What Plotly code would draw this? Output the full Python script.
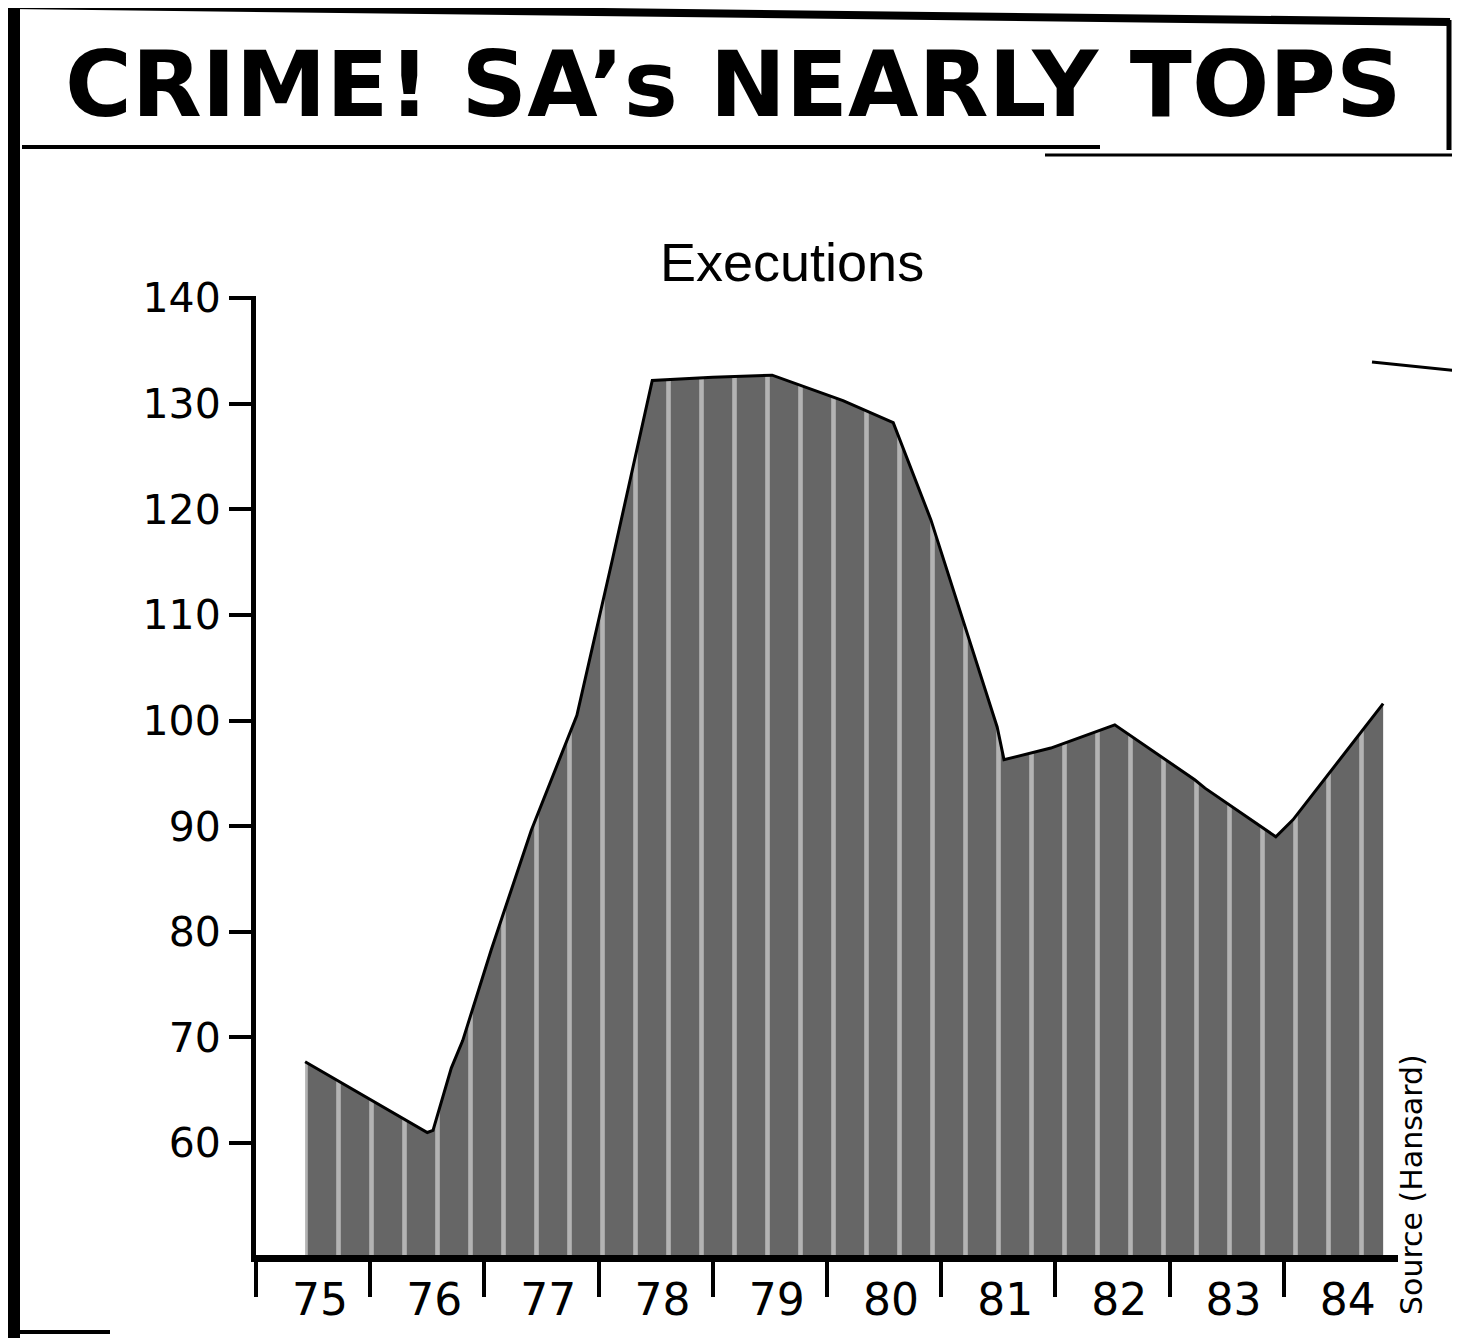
import plotly.graph_objects as go

# ---- data ----
period_x = [1975.43, 1976.50, 1976.55, 1976.71, 1976.81, 1977.06, 1977.41, 1977.81,
            1978.12, 1978.47, 1979.00, 1979.52, 1980.14, 1980.58, 1980.91, 1981.22,
            1981.49, 1981.55, 1981.96, 1982.52, 1982.72, 1983.22, 1983.31, 1983.93,
            1984.08, 1984.87]
executions = [67.7, 61.0, 61.2, 67.1, 69.7, 78.3, 89.6, 100.5,
              115.2, 132.2, 132.5, 132.7, 130.3, 128.2, 119.0, 108.6,
              99.4, 96.3, 97.4, 99.6, 98.1, 94.4, 93.6, 89.0,
              90.6, 101.6]
year_label_pos = [1975.56, 1976.56, 1977.56, 1978.56, 1979.56,
                  1980.56, 1981.56, 1982.56, 1983.56, 1984.56]
year_labels = ["75", "76", "77", "78", "79", "80", "81", "82", "83", "84"]
year_bounds = [1975, 1976, 1977, 1978, 1979, 1980, 1981, 1982, 1983, 1984]
y_ticks = [60, 70, 80, 90, 100, 110, 120, 130, 140]

title_text = "CRIME! SA’s NEARLY TOPS"
subtitle_text = "Executions"
source_text = "Source (Hansard)"

# ---- layout geometry (target pixels in the page) ----
W_FIG, H_FIG = 1460, 1338
OFF = 8  # page body margin
L, R, T, B = 256 - OFF, 1398 - OFF, 296 - OFF, 1255 - OFF
PW, PH = R - L, B - T


def px_x(x):
    return (x - OFF - L) / PW


def px_y(y):
    return (B - (y - OFF)) / PH


fig = go.Figure()
fig.add_trace(go.Scatter(
    x=period_x, y=executions, mode="lines",
    line=dict(color="black", width=3),
    fill="tozeroy", fillcolor="#666666",
    fillpattern=dict(shape="|", fgcolor="white", size=33, solidity=0.14,
                     fillmode="overlay"),
    hoverinfo="skip", showlegend=False,
))

shapes = [
    dict(type="rect", xref="paper", yref="paper",
         x0=px_x(3), x1=px_x(20), y0=px_y(1346), y1=px_y(0),
         fillcolor="black", line=dict(width=0)),
    dict(type="line", xref="paper", yref="paper",
         x0=px_x(10), y0=px_y(5), x1=px_x(1450), y1=px_y(22),
         line=dict(color="black", width=8)),
    dict(type="line", xref="paper", yref="paper",
         x0=px_x(1449), y0=px_y(20), x1=px_x(1449), y1=px_y(150),
         line=dict(color="black", width=5)),
    dict(type="line", xref="paper", yref="paper",
         x0=px_x(22), y0=px_y(147), x1=px_x(1100), y1=px_y(147),
         line=dict(color="black", width=4)),
    dict(type="line", xref="paper", yref="paper",
         x0=px_x(1045), y0=px_y(155), x1=px_x(1470), y1=px_y(155),
         line=dict(color="black", width=3)),
    dict(type="line", xref="paper", yref="paper",
         x0=px_x(1372), y0=px_y(362), x1=px_x(1470), y1=px_y(372),
         line=dict(color="black", width=3)),
    dict(type="line", xref="paper", yref="paper",
         x0=px_x(20), y0=px_y(1332), x1=px_x(110), y1=px_y(1332),
         line=dict(color="black", width=4)),
]

annotations = [
    dict(text=f"<b>{title_text}</b>", xref="paper", yref="paper",
         x=px_x(733), y=px_y(84), xanchor="center", yanchor="middle",
         showarrow=False,
         font=dict(family="DejaVu Sans", size=91, color="black")),
    dict(text=subtitle_text, xref="paper", yref="paper",
         x=px_x(792), y=px_y(262), xanchor="center", yanchor="middle",
         showarrow=False,
         font=dict(family="Liberation Sans", size=54, color="black")),
    dict(text=source_text, xref="paper", yref="paper",
         x=px_x(1411), y=px_y(1185), xanchor="center", yanchor="middle",
         textangle=-90, showarrow=False,
         font=dict(family="DejaVu Sans", size=30, color="black")),
]

fig.update_layout(
    width=W_FIG, height=H_FIG,
    margin=dict(l=L, r=W_FIG - R, t=T, b=H_FIG - B, pad=0),
    paper_bgcolor="white", plot_bgcolor="white",
    shapes=shapes, annotations=annotations,
    xaxis=dict(range=[1975, 1985], tickmode="array", tickvals=year_label_pos,
               ticktext=year_labels, ticks="", showgrid=False, zeroline=False,
               showline=True, linecolor="black", linewidth=7,
               tickfont=dict(family="DejaVu Sans", size=44, color="black"),
               minor=dict(tickmode="array", tickvals=year_bounds, ticks="outside",
                          ticklen=35, tickwidth=4, tickcolor="black",
                          showgrid=False)),
    yaxis=dict(range=[49.4, 140.2], tickmode="array", tickvals=y_ticks,
               ticks="outside", ticklen=22, tickwidth=4, tickcolor="black",
               showgrid=False, zeroline=False, showline=True,
               linecolor="black", linewidth=5,
               tickfont=dict(family="DejaVu Sans", size=41, color="black")),
)

fig.write_html("out.html")
